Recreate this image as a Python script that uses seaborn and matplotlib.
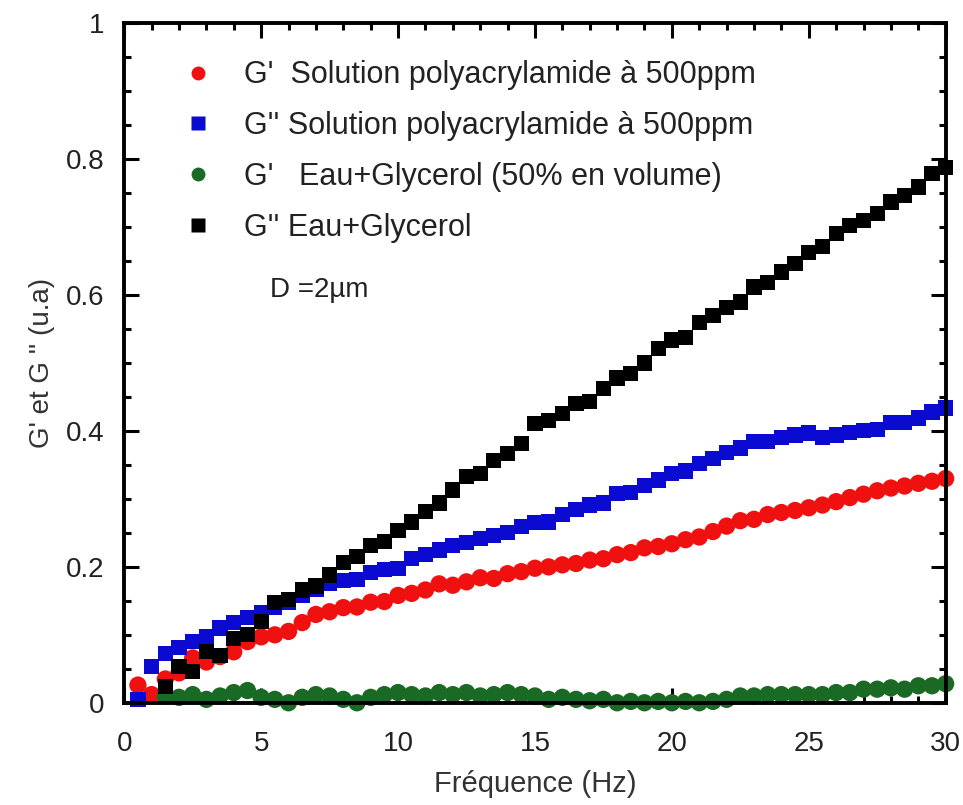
import numpy as np
import pandas as pd
import matplotlib
matplotlib.use("Agg")
import matplotlib.pyplot as plt
import seaborn as sns
from matplotlib.ticker import MultipleLocator, FuncFormatter
from matplotlib.lines import Line2D

sns.set_style("white")
plt.rcParams['font.family'] = ['Liberation Sans', 'DejaVu Sans']

# ---------------- data ----------------
freq_red = [0.5, 1.0, 1.5, 2.0, 2.5, 3.0, 3.5, 4.0, 4.5, 5.0, 5.5, 6.0, 6.5, 7.0, 7.5, 8.0, 8.5, 9.0, 9.5, 10.0,
            10.5, 11.0, 11.5, 12.0, 12.5, 13.0, 13.5, 14.0, 14.5, 15.0, 15.5, 16.0, 16.5, 17.0, 17.5, 18.0, 18.5,
            19.0, 19.5, 20.0, 20.5, 21.0, 21.5, 22.0, 22.5, 23.0, 23.5, 24.0, 24.5, 25.0, 25.5, 26.0, 26.5, 27.0,
            27.5, 28.0, 28.5, 29.0, 29.5, 30.0]
g1_polyacryl = [0.026, 0.012, 0.035, 0.044, 0.066, 0.060, 0.068, 0.075, 0.090, 0.097, 0.100, 0.105, 0.118, 0.130,
                0.134, 0.140, 0.141, 0.148, 0.149, 0.158, 0.161, 0.166, 0.175, 0.173, 0.178, 0.184, 0.183, 0.190,
                0.193, 0.198, 0.200, 0.203, 0.205, 0.210, 0.212, 0.218, 0.221, 0.228, 0.230, 0.234, 0.240, 0.244,
                0.252, 0.260, 0.268, 0.270, 0.277, 0.280, 0.283, 0.287, 0.291, 0.296, 0.302, 0.307, 0.312, 0.316,
                0.319, 0.323, 0.326, 0.330]

freq_blue = freq_red
g2_polyacryl = [0.005, 0.053, 0.073, 0.081, 0.090, 0.097, 0.110, 0.118, 0.125, 0.132, 0.141, 0.148, 0.158, 0.167,
                0.176, 0.180, 0.182, 0.192, 0.196, 0.198, 0.212, 0.218, 0.225, 0.232, 0.236, 0.242, 0.246, 0.251,
                0.260, 0.265, 0.266, 0.277, 0.284, 0.291, 0.294, 0.308, 0.310, 0.320, 0.328, 0.338, 0.341, 0.352,
                0.360, 0.368, 0.375, 0.384, 0.384, 0.391, 0.394, 0.397, 0.390, 0.394, 0.398, 0.401, 0.402, 0.412,
                0.412, 0.419, 0.428, 0.434]

freq_glyc = [1.5, 2.0, 2.5, 3.0, 3.5, 4.0, 4.5, 5.0, 5.5, 6.0, 6.5, 7.0, 7.5, 8.0, 8.5, 9.0, 9.5, 10.0,
             10.5, 11.0, 11.5, 12.0, 12.5, 13.0, 13.5, 14.0, 14.5, 15.0, 15.5, 16.0, 16.5, 17.0, 17.5, 18.0, 18.5,
             19.0, 19.5, 20.0, 20.5, 21.0, 21.5, 22.0, 22.5, 23.0, 23.5, 24.0, 24.5, 25.0, 25.5, 26.0, 26.5, 27.0,
             27.5, 28.0, 28.5, 29.0, 29.5, 30.0]
g1_glyc = [0.010, 0.008, 0.012, 0.005, 0.010, 0.015, 0.018, 0.008, 0.005, 0.000, 0.008, 0.012, 0.010, 0.005,
           0.000, 0.008, 0.012, 0.015, 0.012, 0.010, 0.015, 0.012, 0.015, 0.010, 0.012, 0.015, 0.012, 0.010,
           0.005, 0.008, 0.005, 0.003, 0.005, 0.000, 0.002, 0.000, 0.002, 0.000, 0.002, 0.000, 0.002, 0.005,
           0.010, 0.010, 0.012, 0.012, 0.012, 0.012, 0.012, 0.015, 0.015, 0.020, 0.020, 0.022, 0.020, 0.025,
           0.025, 0.028]
g2_glyc = [0.024, 0.053, 0.046, 0.075, 0.070, 0.095, 0.100, 0.120, 0.147, 0.152, 0.166, 0.172, 0.188, 0.206,
           0.215, 0.232, 0.237, 0.254, 0.266, 0.281, 0.294, 0.313, 0.333, 0.338, 0.357, 0.367, 0.382, 0.411,
           0.416, 0.426, 0.441, 0.443, 0.463, 0.478, 0.485, 0.500, 0.522, 0.534, 0.538, 0.560, 0.570, 0.582,
           0.590, 0.612, 0.619, 0.634, 0.647, 0.663, 0.671, 0.691, 0.703, 0.710, 0.720, 0.737, 0.747, 0.759,
           0.779, 0.788]

labels = ["G'  Solution polyacrylamide à 500ppm",
          "G'' Solution polyacrylamide à 500ppm",
          "G'   Eau+Glycerol (50% en volume)",
          "G'' Eau+Glycerol"]
colors = ["#f01010", "#0a0ad0", "#1a6a25", "#000000"]
markers = ["o", "s", "o", "s"]

x_ticks = [0, 5, 10, 15, 20, 25, 30]
y_ticks = [0, 0.2, 0.4, 0.6, 0.8, 1.0]
x_label = "Fréquence (Hz)"
y_label = "G' et G '' (u.a)"
annotation = "D =2µm"

# ---------------- figure ----------------
fig = plt.figure(figsize=(9.63, 8.05), dpi=100)
ax = fig.add_axes([0.129, 0.127, 0.853, 0.844])

series = [(freq_red, g1_polyacryl), (freq_blue, g2_polyacryl), (freq_glyc, g1_glyc), (freq_glyc, g2_glyc)]
order = [2, 0, 1, 3]  # drawing order: green first, black on top
for i in order:
    fx, fy = series[i]
    df = pd.DataFrame({"f": fx, "g": fy})
    sns.scatterplot(data=df, x="f", y="g", ax=ax, color=colors[i], marker=markers[i],
                    s=155 if markers[i] == "o" else 120, edgecolor="none", linewidth=0,
                    clip_on=False, zorder=3 + i, legend=False)

ax.set_xlim(0, 30)
ax.set_ylim(0, 1)
ax.set_xticks(x_ticks)
ax.set_yticks(y_ticks)
ax.xaxis.set_minor_locator(MultipleLocator(1))
ax.yaxis.set_minor_locator(MultipleLocator(0.05))
ax.yaxis.set_major_formatter(FuncFormatter(lambda v, p: f"{v:g}"))
ax.tick_params(which="both", direction="in", top=True, right=True, bottom=True, left=True,
               colors="black", labelcolor="#222222", labelsize=20, width=2.2)
ax.tick_params(axis="x", which="major", pad=20)
ax.tick_params(axis="y", which="major", pad=14)
ax.tick_params(which="major", length=11)
ax.tick_params(which="minor", length=5)
for sp in ax.spines.values():
    sp.set_linewidth(2.8)
    sp.set_color("black")
    sp.set_zorder(10)

ax.set_xlabel(x_label, fontsize=21, color="#333333", labelpad=10)
ax.set_ylabel(y_label, fontsize=20, color="#333333", labelpad=8)

handles = [Line2D([0], [0], marker=markers[i], color="none", markerfacecolor=colors[i],
                  markeredgecolor="none", markersize=10 if markers[i] == "o" else 9.5) for i in range(4)]
leg = ax.legend(handles, labels, loc="upper left", bbox_to_anchor=(0.038, 0.986), frameon=False,
                fontsize=22, handletextpad=1.0, labelspacing=0.68, handlelength=1.0)
for t in leg.get_texts():
    t.set_color("#222222")

ax.text(0.178, 0.607, annotation, transform=ax.transAxes, fontsize=20, color="#222222", va="center")

fig.savefig("out.png", dpi=100, facecolor="white")
